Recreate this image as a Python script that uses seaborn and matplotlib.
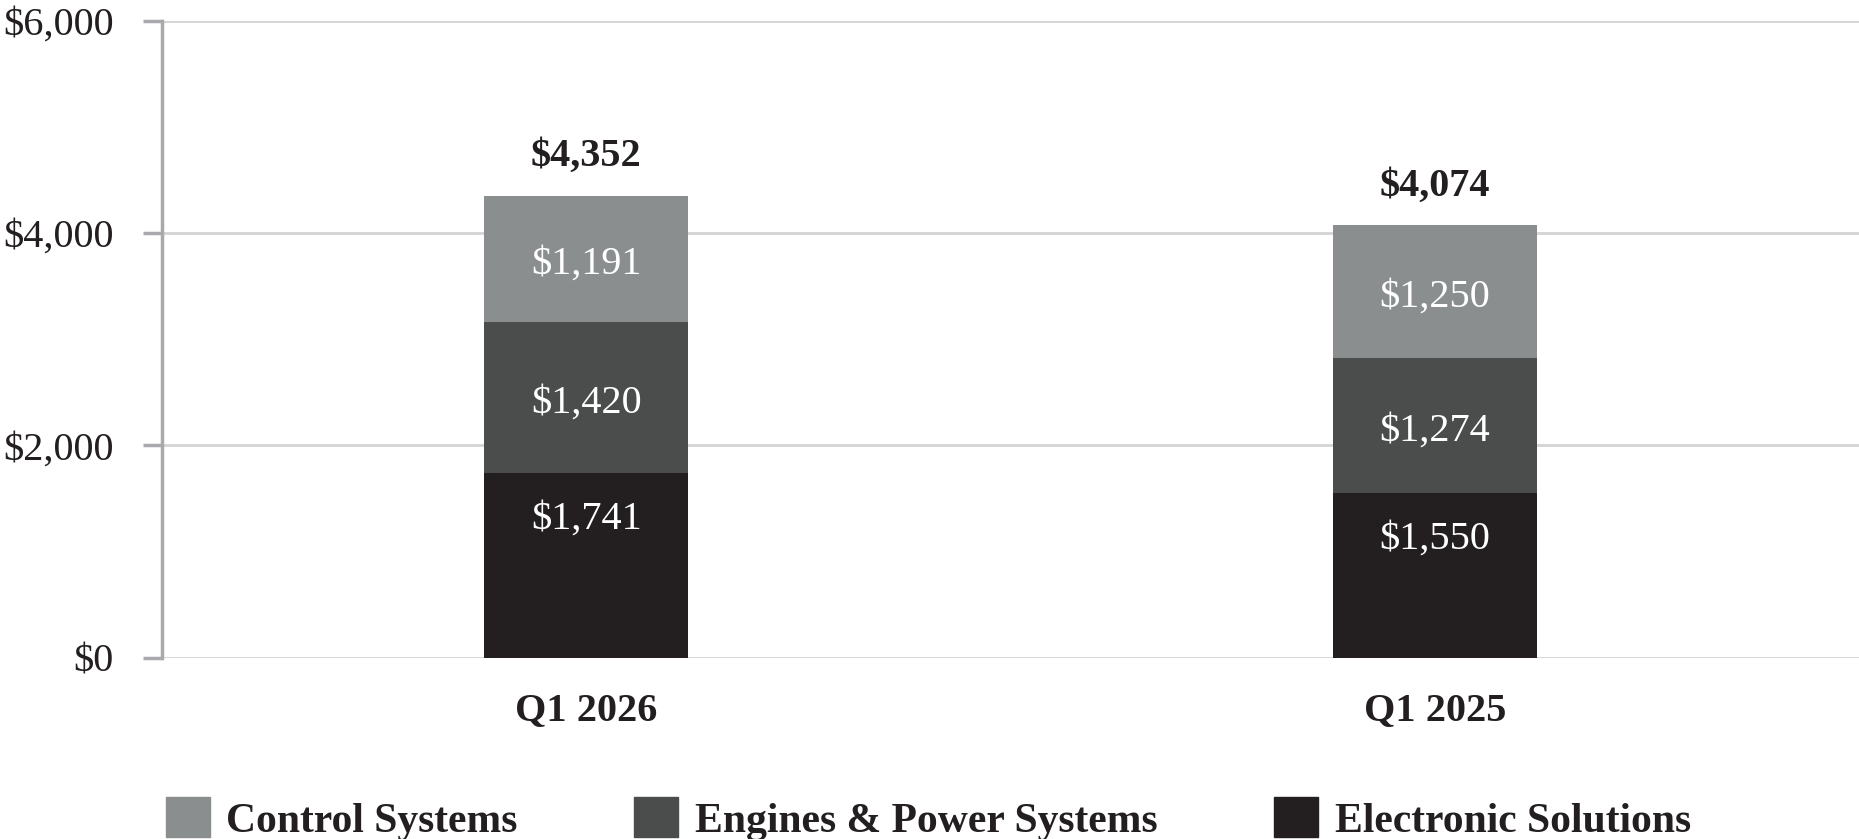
import numpy as np
import pandas as pd
import matplotlib.pyplot as plt
import seaborn as sns

# ===================== data =====================
quarters = ["Q1 2026", "Q1 2025"]
control = [1191, 1250]
engines = [1420, 1274]
electronic = [1741, 1550]
segments = ["Control Systems", "Engines & Power Systems", "Electronic Solutions"]
colors = ["#8a8e8e", "#4b4d4d", "#231f20"]
y_ticks = [0, 2000, 4000, 6000]

# ===================== style =====================
sns.set_theme(style="white")
plt.rcParams["font.family"] = ["Liberation Serif", "DejaVu Serif"]
FS = 29

df = pd.DataFrame({"quarter": quarters, "control": control,
                   "engines": engines, "electronic": electronic})
df["lower"] = df["electronic"]
df["middle"] = df["electronic"] + df["engines"]
df["total"] = df["middle"] + df["control"]

fig = plt.figure(figsize=(18.59, 8.39), dpi=100)
ax = fig.add_axes([162 / 1859, 1 - 657.7 / 839, 1 - 162 / 1859, (657.7 - 20.7) / 839])

# layered bars: total first, then the lower stacks on top of it
for col, c in zip(["total", "middle", "lower"], colors):
    sns.barplot(data=df, x="quarter", y=col, order=quarters, color=c,
                width=0.24, saturation=1, linewidth=0, ax=ax, zorder=3)

ax.set_xlim(-0.5, 1.5)
ax.set_ylim(0, 6000)
ax.set_yticks(y_ticks)
ax.set_yticklabels([f"${v:,}" for v in y_ticks], fontsize=FS, color="#231f20")
ax.set_xticks(range(len(quarters)))
ax.set_xticklabels(quarters, fontsize=FS, fontweight="bold", color="#231f20")
ax.set_xlabel("")
ax.set_ylabel("")

ax.grid(axis="y", color="#d4d4d4", linewidth=2, zorder=0)
ax.grid(axis="x", visible=False)
for s in ["top", "right", "bottom"]:
    ax.spines[s].set_visible(False)
ax.spines["left"].set_color("#a7a9ac")
ax.spines["left"].set_linewidth(2.5)
ax.tick_params(axis="y", length=14, width=2.5, color="#a7a9ac", pad=21, left=True)
ax.tick_params(axis="x", length=0, pad=25)

# segment labels
lbl = dict(textcoords="offset points", ha="center", va="center", fontsize=FS, zorder=5)
for i in range(len(quarters)):
    top = df["total"][i]
    mid = df["middle"][i]
    low = df["lower"][i]
    ax.annotate(f"${df['control'][i]:,}", (i, (top + mid) / 2), xytext=(0, -4),
                color="white", **lbl)
    ax.annotate(f"${df['engines'][i]:,}", (i, (mid + low) / 2), xytext=(0, -4),
                color="white", **lbl)
    ax.annotate(f"${df['electronic'][i]:,}", (i, low), xytext=(0, -33),
                color="white", **lbl)
    ax.annotate(f"${top:,}", (i, top), xytext=(0, 28),
                color="#231f20", fontweight="bold", **lbl)

# legend
handles = [plt.Rectangle((0, 0), 1, 1, color=c) for c in colors]
leg = fig.legend(handles, segments, loc="center left", bbox_to_anchor=(166 / 1859, 1 - 819 / 839),
                 ncol=3, frameon=False, prop={"size": 30, "weight": "bold"},
                 handlelength=1.05, handleheight=1.1, handletextpad=0.4,
                 columnspacing=2.8, borderpad=0, borderaxespad=0)
for t in leg.get_texts():
    t.set_color("#231f20")

fig.savefig("out.png", dpi=100)
